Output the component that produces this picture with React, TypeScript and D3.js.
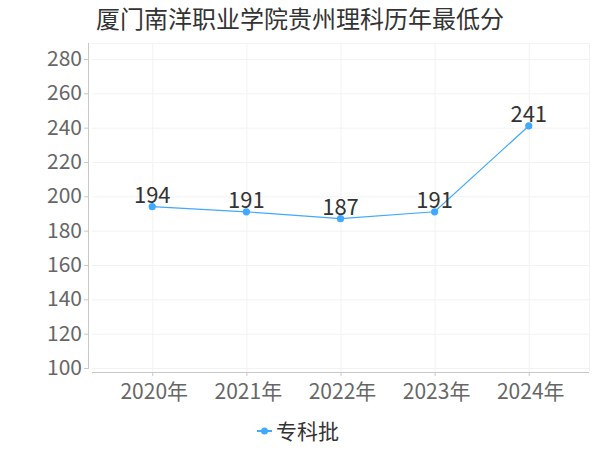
import React from 'react';
import * as d3 from 'd3';

// chart data
const years = ['2020年', '2021年', '2022年', '2023年', '2024年'];
const scores = [194, 191, 187, 191, 241];
const yTicks = [100, 120, 140, 160, 180, 200, 220, 240, 260, 280];
const seriesName = '专科批';
const title = '厦门南洋职业学院贵州理科历年最低分';

const WIDTH = 600;
const HEIGHT = 450;
const FONT = '"Noto Sans CJK SC", "Noto Sans", sans-serif';
const LINE_COLOR = '#40a9ff';

const plot = { left: 92, right: 589, top: 43, bottom: 372 };

const App: React.FC = () => {
  const x = d3.scalePoint<string>()
    .domain(years)
    .range([plot.left, plot.right])
    .padding(0.64);

  // y axis ends 4px above the x axis line
  const y = d3.scaleLinear()
    .domain([100, 290])
    .range([368, 368 - (309 / 180) * 190]);

  const line = d3.line<number>()
    .x((_, i) => x(years[i]) as number)
    .y(d => y(d));

  return (
    <svg width={WIDTH} height={HEIGHT} style={{ position: 'absolute', left: 0, top: 0 }}>
      <rect width={WIDTH} height={HEIGHT} fill="#fff" />
      <text x={300} y={28} textAnchor="middle" fontFamily={FONT} fontSize={24} fill="#333">
        {title}
      </text>

      {/* grid */}
      <g stroke="#f2f2f2" strokeWidth={1}>
        {yTicks.map(t => (
          <line key={t} x1={plot.left} x2={plot.right} y1={y(t) + 0.5} y2={y(t) + 0.5} />
        ))}
        {years.map(c => (
          <line key={c} x1={(x(c) as number) + 0.5} x2={(x(c) as number) + 0.5} y1={plot.top} y2={plot.bottom} />
        ))}
        <line x1={plot.right + 0.5} x2={plot.right + 0.5} y1={plot.top} y2={plot.bottom} />
        <line x1={plot.left} x2={plot.right} y1={plot.top + 0.5} y2={plot.top + 0.5} />
      </g>

      {/* y axis */}
      <g stroke="#c8c8c8" strokeWidth={1}>
        <line x1={88.5} x2={88.5} y1={plot.top} y2={y(100) + 1} />
        {yTicks.map(t => (
          <line key={t} x1={84} x2={88.5} y1={y(t) + 0.5} y2={y(t) + 0.5} />
        ))}
      </g>
      <g fontFamily={FONT} fontSize={21} fill="#666" textAnchor="end">
        {yTicks.map(t => (
          <text key={t} x={82} y={y(t) + 7}>{t}</text>
        ))}
      </g>

      {/* x axis */}
      <g stroke="#c8c8c8" strokeWidth={1}>
        <line x1={plot.left} x2={plot.right} y1={plot.bottom + 0.5} y2={plot.bottom + 0.5} />
        {years.map(c => (
          <line key={c} x1={(x(c) as number) + 0.5} x2={(x(c) as number) + 0.5} y1={plot.bottom} y2={plot.bottom + 4} />
        ))}
      </g>
      <g fontFamily={FONT} fontSize={21} fill="#666" textAnchor="middle">
        {years.map(c => (
          <text key={c} x={(x(c) as number) + 2} y={399}>{c}</text>
        ))}
      </g>

      {/* series */}
      <path d={line(scores) ?? ''} fill="none" stroke={LINE_COLOR} strokeWidth={1.2} />
      {scores.map((v, i) => (
        <circle key={i} cx={x(years[i]) as number} cy={y(v)} r={3.6} fill={LINE_COLOR} />
      ))}
      <g fontFamily={FONT} fontSize={22} fill="#333" textAnchor="middle">
        {scores.map((v, i) => (
          <text key={i} x={x(years[i]) as number} y={y(v) - 4}>{v}</text>
        ))}
      </g>

      {/* legend */}
      <g>
        <line x1={257} x2={272} y1={431} y2={431} stroke={LINE_COLOR} strokeWidth={2} />
        <circle cx={264.5} cy={431} r={3.5} fill={LINE_COLOR} />
        <text x={276} y={439} fontFamily={FONT} fontSize={21} fill="#333">{seriesName}</text>
      </g>
    </svg>
  );
};

export default App;
